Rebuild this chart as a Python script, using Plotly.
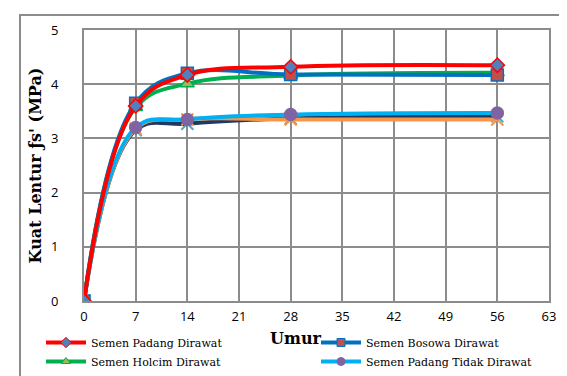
import plotly.graph_objects as go

umur = [0, 7, 14, 28, 56]
padang_dirawat = [0, 3.60, 4.17, 4.32, 4.35]
bosowa_dirawat = [0, 3.65, 4.20, 4.18, 4.17]
holcim_dirawat = [0, 3.57, 4.01, 4.16, 4.21]
padang_tidak = [0, 3.20, 3.35, 3.44, 3.47]
bosowa_tidak = [0, 3.15, 3.27, 3.37, 3.41]
holcim_tidak = [0, 3.18, 3.35, 3.35, 3.35]

x_ticks = [0, 7, 14, 21, 28, 35, 42, 49, 56, 63]
y_ticks = [0, 1, 2, 3, 4, 5]

series = [
    # name, values, line color, marker symbol, marker fill, marker border, legend id
    ("Semen Padang Dirawat", padang_dirawat, "#FF0000", "diamond", "#4F81BD", "#FF0000", "legend"),
    ("Semen Holcim Dirawat", holcim_dirawat, "#00B050", "triangle-up", "#9BBB59", "#00B050", "legend"),
    ("Semen Bosowa Dirawat", bosowa_dirawat, "#0070C0", "square", "#C0504D", "#0070C0", "legend2"),
    ("Semen Padang Tidak Dirawat", padang_tidak, "#00B0F0", "circle", "#8064A2", "#8064A2", "legend2"),
    ("Semen Bosowa Tidak Dirawat", bosowa_tidak, "#1F3864", "x-thin", "#4BACC6", "#4BACC6", None),
    ("Semen Holcim Tidak Dirawat", holcim_tidak, "#F79646", "x-thin", "#F79646", "#F79646", None),
]

fig = go.Figure()
order = [4, 5, 3, 1, 2, 0]
for i in order:
    name, vals, lc, sym, mf, mb, leg = series[i]
    if sym == "x-thin":
        marker = dict(symbol=sym, size=12, line=dict(color=mf, width=2))
    else:
        marker = dict(symbol=sym, size=12 if sym != "diamond" else 11, color=mf,
                      line=dict(color=mb, width=1.5))
    fig.add_trace(go.Scatter(
        x=umur, y=vals, name=name, mode="lines+markers",
        line=dict(color=lc, width=4, shape="spline", smoothing=1.1),
        marker=marker, showlegend=False,
    ))

# legend entries (small markers as in the reference legend)
for i in range(4):
    name, vals, lc, sym, mf, mb, leg = series[i]
    fig.add_trace(go.Scatter(
        x=[None], y=[None], name=name, mode="lines+markers",
        line=dict(color=lc, width=4),
        marker=dict(symbol=sym, size=8, color=mf, line=dict(color=mb, width=1)),
        showlegend=True, legend=leg,
    ))

grid_col = "#8C8C8C"
leg_font = dict(family="DejaVu Serif", size=11, color="black")
leg_y = (293 - 320) / 271
fig.update_layout(
    width=567, height=376,
    margin=dict(l=76, r=26, t=22, b=83, autoexpand=False),
    paper_bgcolor="white", plot_bgcolor="white",
    font=dict(family="Open Sans, sans-serif", color="black"),
    xaxis=dict(range=[0, 63], tickvals=x_ticks, ticktext=[str(v) for v in x_ticks],
               showgrid=True, gridcolor=grid_col, gridwidth=2, zeroline=False,
               showline=True, linecolor=grid_col, linewidth=2, mirror=True,
               tickfont=dict(size=13), ticks="outside", ticklen=2, tickcolor="rgba(0,0,0,0)"),
    yaxis=dict(range=[0, 5], tickvals=y_ticks, showgrid=True, gridcolor=grid_col, gridwidth=2,
               zeroline=False, showline=True, linecolor=grid_col, linewidth=2, mirror=True,
               tickfont=dict(size=13), ticks="outside", ticklen=21, tickcolor="rgba(0,0,0,0)",
               title=dict(text="<b>Kuat Lentur ƒs' (MPa)</b>",
                          font=dict(family="DejaVu Serif", size=16), standoff=5)),
    annotations=[dict(text="<b>Umur</b>", xref="paper", yref="paper",
                      x=(288 - 76) / 465, y=(293 - 331) / 271,
                      xanchor="center", yanchor="middle", showarrow=False,
                      font=dict(family="DejaVu Serif", size=16, color="black"))],
    legend=dict(orientation="v", x=(33 - 76) / 465, xanchor="left",
                y=leg_y, yanchor="top", itemwidth=40,
                font=leg_font, tracegroupgap=0, bgcolor="rgba(0,0,0,0)"),
    legend2=dict(orientation="v", x=(308 - 76) / 465, xanchor="left",
                 y=leg_y, yanchor="top", itemwidth=40,
                 font=leg_font, tracegroupgap=0, bgcolor="rgba(0,0,0,0)"),
    shapes=[dict(type="rect", xref="paper", yref="paper",
                 x0=(12 - 76) / 465, x1=(565 - 76) / 465,
                 y0=(293 - 400) / 271, y1=(293 - 7) / 271,
                 line=dict(color="#8C8C8C", width=2), layer="below")],
)

fig.write_html("out.html")
